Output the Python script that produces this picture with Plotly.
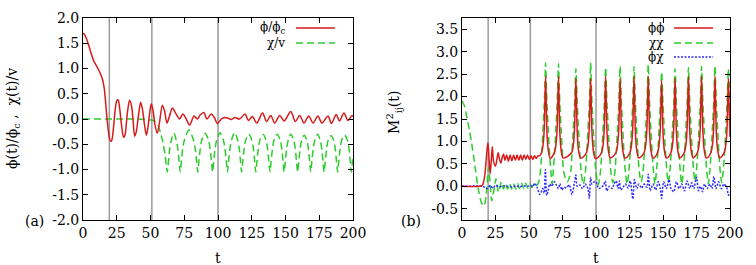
import plotly.graph_objects as go

# ---------------- data: panel (a) ----------------
t_phi = [0, 1, 2, 4, 6, 8, 10, 12, 14, 15,
         16, 17, 18, 19, 20, 21, 22, 23, 24, 25,
         26, 27, 28, 29, 30, 31, 32, 33, 34.5, 36,
         37, 38.3, 39.5, 41, 42.7, 44, 45.5, 46.9, 48.2, 49.5,
         50.6, 52, 53.2, 55, 56.5, 58.8, 60.5, 62.2, 64, 66.2,
         68.5, 71.6, 74, 76.5, 79, 82.2, 84.7, 86.8, 89.5, 91.8,
         95, 97.5, 99.5, 102.5, 105, 107, 110, 112.5, 116, 120,
         122.5, 125.5, 128.7, 133, 136, 139.1, 142, 145.7, 149, 153.9,
         157.3, 160.5, 163.7, 167.2, 170.4, 174, 177, 181.5, 184, 187.6,
         190, 193.3, 196.3, 199.3, 200]
y_phi = [1.70, 1.68, 1.63, 1.48, 1.30, 1.15, 1.05, 0.95, 0.82, 0.72,
         0.55, 0.25, -0.05, -0.28, -0.42, -0.44, -0.32, -0.05, 0.22, 0.36,
         0.38, 0.25, 0.0, -0.22, -0.36, -0.33, -0.12, 0.15, 0.37, 0.25,
         0.0, -0.34, -0.25, 0.05, 0.33, 0.2, -0.1, -0.32, -0.15, 0.15,
         0.3, 0.15, -0.1, -0.28, -0.1, 0.27, 0.15, -0.08, 0.05, 0.22,
         0.12, 0.0, 0.1, 0.0, -0.12, 0.06, 0.0, 0.08, 0.13, 0.0,
         0.1, 0.02, -0.09, 0.0, 0.03, 0.02, -0.01, 0.03, 0.0, 0.1,
         -0.03, 0.05, -0.08, 0.12, -0.05, 0.07, -0.08, 0.07, -0.04, 0.15,
         -0.05, 0.07, -0.08, 0.06, -0.08, 0.06, -0.08, 0.06, -0.09, 0.09,
         -0.04, 0.12, -0.03, 0.07, 0.05]

t_chi = [0, 40, 46, 50, 53, 55.5, 57.5, 59.3, 60.8, 61.8,
         62.5, 63.3, 64.2, 65.4, 67.3,
         69.1, 70.3, 71.2, 72, 72.8, 73.8, 75.1, 78.5,
         81.9, 83.2, 84.2, 85, 85.8, 86.8, 88.0, 90.5,
         93.0, 94.2, 95.2, 96, 96.8, 97.8, 99.0, 101.5,
         104.0, 105.2, 106.2, 107, 107.8, 108.8, 110.0, 112.3,
         114.6, 115.8, 116.7, 117.5, 118.3, 119.3, 120.5, 122.8,
         125.1, 126.3, 127.2, 128, 128.8, 129.8, 131.0, 133.3,
         135.6, 136.8, 137.7, 138.5, 139.3, 140.3, 141.5, 143.8,
         146.1, 147.3, 148.2, 149, 149.8, 150.8, 152.0, 154.0,
         156.1, 157.3, 158.2, 159, 159.8, 160.8, 162.0, 163.9,
         165.8, 167.0, 167.9, 168.7, 169.5, 170.5, 171.7, 173.7,
         175.7, 176.9, 177.8, 178.6, 179.4, 180.4, 181.6, 183.6,
         185.7, 186.9, 187.8, 188.6, 189.4, 190.4, 191.6, 193.7,
         195.9, 197.1, 198.0, 198.8, 199.5, 200]
y_chi = [0, 0, -0.01, -0.02, -0.04, -0.12, -0.28, -0.48, -0.72, -0.92,
         -1.05, -0.85, -0.6, -0.42, -0.28,
         -0.42, -0.6, -0.85, -1.05, -0.85, -0.6, -0.42, -0.22,
         -0.42, -0.6, -0.85, -1.05, -0.85, -0.6, -0.42, -0.28,
         -0.42, -0.6, -0.85, -1.05, -0.85, -0.6, -0.42, -0.27,
         -0.42, -0.6, -0.85, -1.05, -0.85, -0.6, -0.42, -0.27,
         -0.42, -0.6, -0.85, -1.05, -0.85, -0.6, -0.42, -0.3,
         -0.42, -0.6, -0.85, -1.05, -0.85, -0.6, -0.42, -0.3,
         -0.42, -0.6, -0.85, -1.05, -0.85, -0.6, -0.42, -0.3,
         -0.42, -0.6, -0.85, -1.05, -0.85, -0.6, -0.42, -0.3,
         -0.42, -0.6, -0.85, -1.05, -0.85, -0.6, -0.42, -0.32,
         -0.42, -0.6, -0.85, -1.05, -0.85, -0.6, -0.42, -0.3,
         -0.42, -0.6, -0.85, -1.05, -0.85, -0.6, -0.42, -0.33,
         -0.42, -0.6, -0.85, -1.05, -0.85, -0.6, -0.42, -0.32,
         -0.42, -0.6, -0.85, -1.05, -0.85, -0.75]

# ---------------- data: panel (b) ----------------
t_pp = [0, 13, 15, 16.5, 17.8, 18.8, 19.4, 20.2, 21, 21.8,
        22.6, 23.6, 25, 26, 27, 28, 29, 30, 31, 32,
        33.3, 34.6, 35.9, 37.2, 38.5, 39.8, 41.1, 42.4, 43.7, 45,
        46.3, 47.6, 48.9, 50.2, 51.5, 52.8, 54.1, 55.4, 56.7, 58,
        59.4, 60.4, 61.4, 61.9, 62.4, 62.9, 63.4, 64.4, 65.9,
        69, 70, 71, 71.5, 72, 72.5, 73, 74, 75.5, 78.8,
        82, 83, 84, 84.5, 85, 85.5, 86, 87, 88.5, 90.7,
        93, 94, 95, 95.5, 96, 96.5, 97, 98, 99.5, 101.8,
        104.2, 105.2, 106.2, 106.7, 107.2, 107.7, 108.2, 109.2, 110.7, 112.8,
        115, 116, 117, 117.5, 118, 118.5, 119, 120, 121.5, 123.5,
        125.4, 126.4, 127.4, 127.9, 128.4, 128.9, 129.4, 130.4, 131.9, 134,
        136, 137, 138, 138.5, 139, 139.5, 140, 141, 142.5, 144.2,
        146, 147, 148, 148.5, 149, 149.5, 150, 151, 152.5, 154.2,
        156, 157, 158, 158.5, 159, 159.5, 160, 161, 162.5, 164.2,
        166, 167, 168, 168.5, 169, 169.5, 170, 171, 172.5, 174,
        175.8, 176.8, 177.8, 178.3, 178.8, 179.3, 179.8, 180.8, 182.3, 184,
        185.8, 186.8, 187.8, 188.3, 188.8, 189.3, 189.8, 190.8, 192.3, 194,
        195.8, 196.8, 197.8, 198.3, 198.8, 199.3, 200]
y_pp = [0, 0, 0.02, 0.15, 0.5, 0.85, 0.97, 0.6, 0.28, 0.55,
        0.88, 0.55, 0.45, 0.6, 0.75, 0.6, 0.52, 0.65, 0.72, 0.58,
        0.7, 0.56, 0.7, 0.57, 0.7, 0.58, 0.7, 0.58, 0.7, 0.58,
        0.7, 0.6, 0.7, 0.6, 0.68, 0.6, 0.68, 0.62, 0.68, 0.68,
        0.76, 0.9, 1.3, 1.9, 2.45, 1.8, 1.2, 0.8, 0.62,
        0.76, 0.9, 1.3, 1.9, 2.45, 1.8, 1.2, 0.8, 0.63, 0.67,
        0.76, 0.9, 1.3, 1.9, 2.4, 1.8, 1.2, 0.8, 0.63, 0.66,
        0.76, 0.9, 1.3, 1.9, 2.4, 1.8, 1.2, 0.8, 0.62, 0.65,
        0.76, 0.9, 1.3, 1.9, 2.45, 1.8, 1.2, 0.8, 0.63, 0.67,
        0.76, 0.9, 1.3, 1.9, 2.4, 1.8, 1.2, 0.8, 0.63, 0.66,
        0.76, 0.9, 1.3, 1.9, 2.45, 1.8, 1.2, 0.8, 0.63, 0.67,
        0.76, 0.9, 1.3, 1.9, 2.45, 1.8, 1.2, 0.8, 0.63, 0.66,
        0.76, 0.9, 1.3, 1.9, 2.35, 1.8, 1.2, 0.8, 0.63, 0.66,
        0.76, 0.9, 1.3, 1.9, 2.4, 1.8, 1.2, 0.8, 0.63, 0.67,
        0.76, 0.9, 1.3, 1.9, 2.45, 1.8, 1.2, 0.8, 0.63, 0.67,
        0.76, 0.9, 1.3, 1.9, 2.45, 1.8, 1.2, 0.8, 0.63, 0.66,
        0.76, 0.9, 1.3, 1.9, 2.45, 1.8, 1.2, 0.8, 0.63, 0.67,
        0.76, 0.9, 1.3, 1.9, 2.4, 1.8, 1.1]

t_cc = [0, 2, 3.5, 5.5, 7.2, 9.7, 12.2, 14.7, 16.4, 18.0,
        19.8, 21, 22.2, 23.7, 25.3, 26.3, 27.3, 28.3, 29.3, 31,
        32.5, 34, 35.5, 37, 38.5, 40, 41.5, 43, 44.5, 46,
        47.5, 49, 50.5, 52, 53.5, 55, 56.5, 57.4,
        58.4, 59.4, 60.4, 61.4, 61.9, 62.4, 62.9, 63.4, 64.4, 65.4, 66.4, 67.2,
        68, 69, 70, 71, 71.5, 72, 72.5, 73, 74, 75, 76, 78.5,
        81, 82, 83, 84, 84.5, 85, 85.5, 86, 87, 88, 89, 90.5,
        92, 93, 94, 95, 95.5, 96, 96.5, 97, 98, 99, 100, 101.6,
        103.2, 104.2, 105.2, 106.2, 106.7, 107.2, 107.7, 108.2, 109.2, 110.2, 111.2, 112.6,
        114, 115, 116, 117, 117.5, 118, 118.5, 119, 120, 121, 122, 123.2,
        124.4, 125.4, 126.4, 127.4, 127.9, 128.4, 128.9, 129.4, 130.4, 131.4, 132.4, 133.7,
        135, 136, 137, 138, 138.5, 139, 139.5, 140, 141, 142, 143, 144,
        145, 146, 147, 148, 148.5, 149, 149.5, 150, 151, 152, 153, 154,
        155, 156, 157, 158, 158.5, 159, 159.5, 160, 161, 162, 163, 164,
        165, 166, 167, 168, 168.5, 169, 169.5, 170, 171, 172, 173, 173.9,
        174.8, 175.8, 176.8, 177.8, 178.3, 178.8, 179.3, 179.8, 180.8, 181.8, 182.8, 183.8,
        184.8, 185.8, 186.8, 187.8, 188.3, 188.8, 189.3, 189.8, 190.8, 191.8, 192.8, 193.8,
        194.8, 195.8, 196.8, 197.8, 198.3, 198.8, 199.3, 199.8, 200]
y_cc = [1.9, 1.78, 1.55, 1.25, 0.96, 0.44, -0.07, -0.38, -0.44, -0.2,
        0.42, 0.05, -0.32, -0.1, 0.17, 0.0, -0.13, -0.02, 0.1, -0.06,
        0.06, -0.06, 0.06, -0.06, 0.06, -0.06, 0.06, -0.05, 0.07, -0.05,
        0.07, -0.04, 0.05, -0.03, 0.03, 0.0, 0.05, 0.12,
        0.3, 0.7, 1.25, 1.85, 2.3, 2.75, 2.3, 1.85, 1.25, 0.7, 0.3, 0.05,
        0.3, 0.7, 1.25, 1.85, 2.3, 2.73, 2.3, 1.85, 1.25, 0.7, 0.3, 0.1,
        0.3, 0.7, 1.25, 1.85, 2.3, 2.62, 2.3, 1.85, 1.25, 0.7, 0.3, 0.05,
        0.3, 0.7, 1.25, 1.85, 2.3, 2.75, 2.3, 1.85, 1.25, 0.7, 0.3, 0.03,
        0.3, 0.7, 1.25, 1.85, 2.3, 2.65, 2.3, 1.85, 1.25, 0.7, 0.3, 0.08,
        0.3, 0.7, 1.25, 1.85, 2.3, 2.68, 2.3, 1.85, 1.25, 0.7, 0.3, 0.05,
        0.3, 0.7, 1.25, 1.85, 2.3, 2.67, 2.3, 1.85, 1.25, 0.7, 0.3, 0.1,
        0.3, 0.7, 1.25, 1.85, 2.3, 2.72, 2.3, 1.85, 1.25, 0.7, 0.3, 0.05,
        0.3, 0.7, 1.25, 1.85, 2.25, 2.55, 2.25, 1.85, 1.25, 0.7, 0.3, 0.08,
        0.3, 0.7, 1.25, 1.85, 2.3, 2.62, 2.3, 1.85, 1.25, 0.7, 0.3, 0.05,
        0.3, 0.7, 1.25, 1.85, 2.3, 2.65, 2.3, 1.85, 1.25, 0.7, 0.3, 0.1,
        0.3, 0.7, 1.25, 1.85, 2.3, 2.67, 2.3, 1.85, 1.25, 0.7, 0.3, 0.05,
        0.3, 0.7, 1.25, 1.85, 2.3, 2.68, 2.3, 1.85, 1.25, 0.7, 0.3, 0.08,
        0.3, 0.7, 1.25, 1.85, 2.3, 2.62, 2.3, 1.85, 1.7]

t_pc = [0, 15, 17, 19, 21, 23, 25, 28, 31, 34,
        37, 40, 43, 46, 49, 51, 53, 54.2, 56, 58.1,
        60.3, 61.3, 62.2, 63.2, 64.2, 65.5, 66.7, 68, 69.2, 70.5,
        72, 73, 74.5, 76, 78, 80, 82, 84, 85, 86,
        88, 90, 92, 94, 95, 96, 97, 98.5, 100, 102,
        104, 105.5, 107, 108, 110, 112, 113.5, 115, 116.5, 117.5,
        118.5, 120, 122, 124, 125.5, 127.5, 128.7, 130.5, 132, 134,
        136, 138, 139, 140.5, 142.5, 144.5, 146.5, 148, 149, 150.5,
        152.5, 154.5, 156, 158, 160, 162, 164, 166, 168, 170,
        171.5, 173, 175, 176.5, 178, 179.5, 181, 183, 185, 186.5,
        188, 189.5, 191.5, 193.5, 195.5, 197.5, 199, 200]
y_pc = [0, 0, -0.02, -0.05, 0.02, -0.04, 0.02, -0.01, 0.01, 0.0,
        -0.01, 0.01, -0.01, 0.01, 0.0, 0.02, 0.0, 0.07, -0.02, -0.18,
        -0.05, -0.15, 0.37, -0.2, -0.1, 0.05, 0.0, 0.05, 0.1, 0.02,
        -0.05, 0.06, -0.08, -0.02, -0.03, 0.03, -0.18, 0.1, 0.25, 0.0,
        0.03, -0.05, 0.05, -0.05, -0.27, 0.2, 0.05, 0.1, 0.1, -0.05,
        -0.02, 0.02, 0.12, -0.1, 0.0, -0.05, 0.05, 0.12, -0.05, 0.12,
        -0.08, -0.03, 0.05, -0.04, 0.12, -0.28, 0.15, -0.05, 0.05, -0.04,
        0.05, -0.02, 0.27, -0.1, 0.05, -0.08, 0.1, -0.05, -0.27, 0.1,
        -0.05, 0.15, -0.05, -0.12, 0.1, -0.05, 0.05, -0.1, 0.12, -0.05,
        0.08, -0.05, 0.2, -0.1, 0.0, -0.12, 0.05, -0.05, 0.05, -0.05,
        0.22, -0.05, 0.1, -0.05, 0.05, -0.03, -0.2, -0.15]

for a, b in [(t_phi, y_phi), (t_chi, y_chi), (t_pp, y_pp), (t_cc, y_cc), (t_pc, y_pc)]:
    assert len(a) == len(b), (len(a), len(b))

vlines = [19.5, 51, 100]
x_ticks = [0, 25, 50, 75, 100, 125, 150, 175, 200]
ya_ticks = [-2.0, -1.5, -1.0, -0.5, 0.0, 0.5, 1.0, 1.5, 2.0]
ya_labels = ["-2.0", "-1.5", "-1.0", "-0.5", "0.0", "0.5", "1.0", "1.5", "2.0"]
yb_ticks = [-0.5, 0.0, 0.5, 1.0, 1.5, 2.0, 2.5, 3.0, 3.5]
yb_labels = ["-0.5", "0.0", "0.5", "1.0", "1.5", "2.0", "2.5", "3.0", "3.5"]

RED = "#d71a1a"
GREEN = "#2ccc2c"
BLUE = "#2a2aff"
FONT = "DejaVu Serif"
FS = 14
LFS = 12

fig = go.Figure()

def add(t, y, color, dash, ax):
    fig.add_trace(go.Scatter(
        x=t, y=y, mode="lines", xaxis="x" + ax, yaxis="y" + ax,
        line=dict(color=color, width=1.5, dash=dash, shape="spline", smoothing=0.8),
        hoverinfo="skip", showlegend=False))

add(t_chi, y_chi, GREEN, "7px,4px", "")
add(t_phi, y_phi, RED, "solid", "")
add(t_cc, y_cc, GREEN, "7px,4px", "2")
add(t_pc, y_pc, BLUE, "2px,1.5px", "2")
add(t_pp, y_pp, RED, "solid", "2")

axis_common = dict(showline=True, linecolor="black", linewidth=1, mirror="ticks",
                   ticks="inside", ticklen=5, tickcolor="black", showgrid=False,
                   zeroline=False, tickfont=dict(family=FONT, size=FS, color="black"))

fig.update_layout(
    width=756, height=265,
    margin=dict(l=83, r=26, t=18, b=45, autoexpand=False),
    paper_bgcolor="white", plot_bgcolor="white",
    showlegend=False,
    xaxis=dict(domain=[0, 0.4173], range=[0, 200], tickvals=x_ticks, anchor="y", **axis_common),
    yaxis=dict(domain=[0, 1], range=[-2, 2], tickvals=ya_ticks, ticktext=ya_labels, anchor="x", **axis_common),
    xaxis2=dict(domain=[0.5858, 1], range=[0, 200], tickvals=x_ticks, anchor="y2", **axis_common),
    yaxis2=dict(domain=[0, 1], range=[-0.75, 3.75], tickvals=yb_ticks, ticktext=yb_labels, anchor="x2", **axis_common),
)

shapes = []
for ax in ["x", "x2"]:
    yr = "y domain" if ax == "x" else "y2 domain"
    for v in vlines:
        shapes.append(dict(type="line", xref=ax, yref=yr, x0=v, x1=v, y0=0, y1=1,
                           line=dict(color="#9a9a9a", width=1.5), layer="below"))

# legend samples
leg_a = [("ϕ/ϕ<sub>c</sub>", RED, "solid", 0.95), ("χ/v", GREEN, "7px,4px", 0.876)]
leg_b = [("ϕϕ", RED, "solid", 0.95), ("χχ", GREEN, "7px,4px", 0.876), ("ϕχ", BLUE, "2px,1.5px", 0.807)]
annotations = []
for entries, xr, yr, tx, lx0, lx1 in [(leg_a, "x domain", "y domain", 0.755, 0.789, 0.933),
                                       (leg_b, "x2 domain", "y2 domain", 0.761, 0.791, 0.937)]:
    for label, col, dash, yy in entries:
        shapes.append(dict(type="line", xref=xr, yref=yr, x0=lx0, x1=lx1, y0=yy, y1=yy,
                           line=dict(color=col, width=1.5, dash=dash)))
        annotations.append(dict(text=label, xref=xr, yref=yr, x=tx, y=yy, xanchor="right",
                                yanchor="middle", showarrow=False,
                                font=dict(family=FONT, size=LFS, color="black")))

txt = dict(family=FONT, size=FS, color="black")
annotations += [
    dict(text="ϕ(t)/ϕ<sub>c</sub> ,\u00a0\u00a0χ(t)/v", xref="paper", yref="paper", x=-0.108, y=0.5,
         textangle=-90, showarrow=False, xanchor="center", yanchor="middle", font=txt),
    dict(text="M<sup>2</sup><sub>ij</sub>(t)", xref="paper", yref="paper", x=0.4807, y=0.53,
         textangle=-90, showarrow=False, xanchor="center", yanchor="middle", font=txt),
    dict(text="(a)", xref="paper", yref="paper", x=-0.0742, y=-0.005, showarrow=False,
         xanchor="center", yanchor="middle", font=txt),
    dict(text="(b)", xref="paper", yref="paper", x=0.507, y=-0.005, showarrow=False,
         xanchor="center", yanchor="middle", font=txt),
    dict(text="t", xref="paper", yref="paper", x=0.2087, y=-0.188, showarrow=False,
         xanchor="center", yanchor="middle", font=txt),
    dict(text="t", xref="paper", yref="paper", x=0.793, y=-0.188, showarrow=False,
         xanchor="center", yanchor="middle", font=txt),
]
fig.update_layout(shapes=shapes, annotations=annotations)

fig.write_html("out.html", config={"displayModeBar": False},
               post_script="document.body.style.margin='0';document.body.style.overflow='hidden';")
